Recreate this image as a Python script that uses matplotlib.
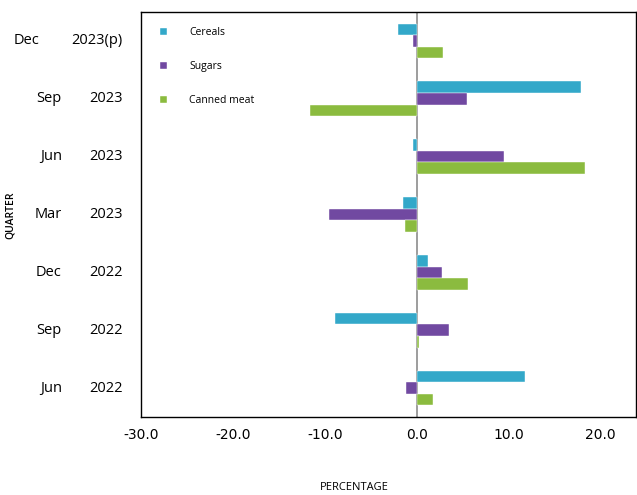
import numpy as np
import matplotlib as mpl
import matplotlib.pyplot as plt

mpl.use("Agg")

months = ["Jun", "Sep", "Dec", "Mar", "Jun", "Sep", "Dec"]
years = ["2022", "2022", "2022", "2023", "2023", "2023", "2023(p)"]
cereals = [11.8, -8.9, 1.2, -1.5, -0.4, 17.9, -2.0]
sugars = [-1.2, 3.5, 2.7, -9.6, 9.5, 5.5, -0.4]
canned_meat = [1.7, 0.25, 5.6, -1.3, 18.3, -11.6, 2.8]
x_ticks = [-30, -20, -10, 0, 10, 20]

colors = {"Cereals": "#33a8c9", "Sugars": "#7149a1", "Canned meat": "#8bbb3f"}

fig = plt.figure(figsize=(6.37, 4.95), dpi=100)
ax = fig.add_axes([0.2214, 0.1576, 0.7766, 0.8182])

y = np.arange(len(months))
h = 0.2
series = [("Cereals", cereals, h), ("Sugars", sugars, 0), ("Canned meat", canned_meat, -h)]
for name, vals, off in series:
    ax.barh(y + off, vals, height=h, color=colors[name], label=name,
            edgecolor="white", linewidth=0.3)

ax.axvline(0, color="#8c8c8c", lw=1.2, zorder=0.5)
ax.set_xlim(-30, 23.8)
ax.set_ylim(-0.5, 6.5)
ax.set_xticks(x_ticks)
ax.set_xticklabels([f"{v:.1f}" for v in x_ticks], fontsize=10,
                   family="DejaVu Sans")
ax.set_yticks(y)
ax.set_yticklabels([""] * len(y))
ax.tick_params(length=0, pad=8)

# category labels: month and year drawn as two parts, like the original
for yi, m, yr in zip(y, months, years):
    ax.annotate(yr, xy=(0, yi), xycoords=("axes fraction", "data"),
                xytext=(-13, 0), textcoords="offset points",
                ha="right", va="center", fontsize=10.5, family="Open Sans")
    ax.annotate(m, xy=(0, yi), xycoords=("axes fraction", "data"),
                xytext=(-73 if yr.endswith("(p)") else -57, 0),
                textcoords="offset points",
                ha="right", va="center", fontsize=10.5, family="Open Sans")

for s in ax.spines.values():
    s.set_color("black")
    s.set_linewidth(1.0)

fig.text(0.017, 0.565, "QUARTER", rotation=90, ha="center", va="center",
         fontsize=7.5, family="Open Sans", fontweight="semibold")
fig.text(0.556, 0.016, "PERCENTAGE", ha="center", va="center",
         fontsize=8, family="Open Sans")

ax.legend(loc="upper left", bbox_to_anchor=(0.02, 0.985), frameon=False,
          handlelength=0.6, handleheight=0.6,
          labelspacing=2.2, handletextpad=2.2,
          prop={"family": "Open Sans", "size": 7.5})

fig.savefig("out.png", dpi=100)
